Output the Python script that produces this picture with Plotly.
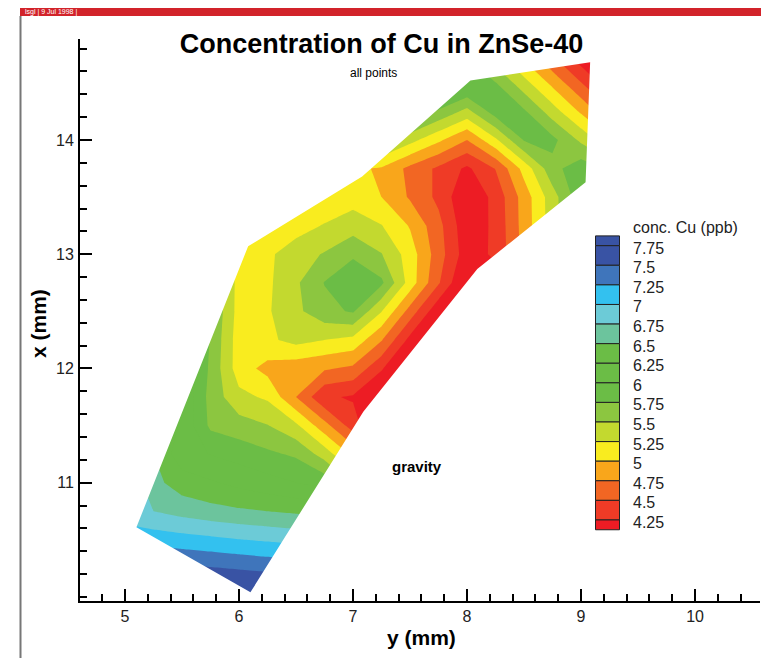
import plotly.graph_objects as go

# ---------------- data ----------------
# grid positions: horizontal axis "y (mm)" and vertical axis "x (mm)"
y_mm = [5.0, 5.25, 5.5, 5.75, 6.0, 6.25, 6.5, 6.75, 7.0, 7.25, 7.5, 7.75, 8.0, 8.25, 8.5, 8.75, 9.0, 9.25]
x_mm = [10.0, 10.25, 10.5, 10.75, 11.0, 11.25, 11.5, 11.75, 12.0, 12.25, 12.5, 12.75,
        13.0, 13.25, 13.5, 13.75, 14.0, 14.25, 14.5, 14.75]

# Cu concentration (ppb) on each grid row (one list per x value)
cu_x10_00 = [8.12, 8.08, 8.04, 7.99, 7.95, 7.91, 7.86, 7.82, 7.78, 7.73, 7.69, 7.65, 7.60, 7.56, 7.52, 7.48, 7.43, 7.39]
cu_x10_25 = [7.65, 7.61, 7.57, 7.52, 7.48, 7.44, 7.40, 7.35, 7.31, 7.26, 7.22, 7.18, 7.13, 7.09, 7.05, 7.00, 6.96, 6.92]
cu_x10_50 = [7.19, 7.14, 7.10, 7.06, 7.01, 6.97, 6.93, 6.88, 6.84, 6.80, 6.75, 6.70, 6.65, 6.60, 6.55, 6.50, 6.45, 6.40]
cu_x10_75 = [6.84, 6.75, 6.66, 6.59, 6.54, 6.50, 6.46, 6.42, 6.37, 6.30, 6.20, 6.10, 6.00, 6.00, 6.00, 6.00, 6.00, 6.00]
cu_x11_00 = [7.00, 6.58, 6.37, 6.28, 6.18, 6.09, 6.00, 5.91, 5.48, 5.30, 5.00, 5.00, 5.00, 5.20, 5.40, 5.60, 5.80, 6.00]
cu_x11_25 = [6.90, 6.50, 6.10, 5.99, 5.90, 5.80, 5.71, 5.39, 4.93, 4.37, 4.20, 4.30, 4.50, 4.80, 5.10, 5.40, 5.70, 6.00]
cu_x11_50 = [6.60, 6.60, 6.20, 5.70, 5.61, 5.51, 5.30, 4.84, 4.38, 3.85, 3.90, 4.00, 4.20, 4.50, 4.80, 5.10, 5.40, 5.70]
cu_x11_75 = [6.60, 6.60, 6.23, 5.66, 5.32, 5.21, 4.75, 4.29, 4.22, 3.80, 3.30, 3.50, 3.80, 4.20, 4.60, 5.00, 5.40, 5.70]
cu_x12_00 = [6.60, 6.60, 6.27, 5.70, 5.12, 4.92, 4.85, 4.78, 4.70, 4.29, 3.68, 3.30, 3.50, 3.90, 4.30, 4.80, 5.20, 5.60]
cu_x12_25 = [6.60, 6.60, 6.31, 5.73, 5.12, 5.20, 5.33, 5.25, 5.18, 4.77, 4.17, 3.56, 3.60, 3.90, 4.30, 4.80, 5.20, 5.60]
cu_x12_50 = [6.60, 6.60, 6.35, 5.77, 5.15, 5.22, 5.44, 5.67, 5.78, 5.26, 4.65, 4.05, 3.44, 3.80, 4.30, 4.80, 5.30, 5.70]
cu_x12_75 = [6.60, 6.60, 6.39, 5.81, 5.15, 5.20, 5.46, 5.76, 6.00, 5.80, 5.14, 4.53, 3.93, 4.10, 4.60, 5.10, 5.60, 5.90]
cu_x13_00 = [6.60, 6.60, 6.42, 5.85, 5.12, 5.20, 5.39, 5.52, 5.70, 5.51, 5.13, 4.62, 4.11, 4.30, 4.83, 5.36, 5.89, 6.20]
cu_x13_25 = [5.00, 5.00, 5.00, 5.00, 4.95, 5.01, 5.14, 5.27, 5.39, 5.26, 4.98, 4.58, 4.07, 4.31, 4.85, 5.38, 5.91, 6.30]
cu_x13_50 = [4.90, 4.90, 4.90, 4.90, 4.80, 4.76, 4.89, 5.02, 5.14, 5.00, 4.72, 4.44, 4.02, 4.33, 4.86, 5.39, 5.92, 6.40]
cu_x13_75 = [5.00, 5.00, 5.00, 5.00, 5.00, 5.00, 5.00, 5.00, 5.05, 4.97, 4.68, 4.45, 4.20, 4.51, 5.09, 5.67, 5.90, 5.70]
cu_x14_00 = [5.50, 5.50, 5.50, 5.50, 5.50, 5.50, 5.50, 5.90, 5.94, 5.64, 5.34, 5.05, 4.75, 5.20, 5.77, 5.82, 5.45, 5.05]
cu_x14_25 = [6.00, 6.00, 6.00, 6.00, 6.00, 6.00, 6.00, 6.00, 6.00, 6.20, 6.01, 5.71, 5.42, 5.88, 5.79, 5.37, 4.96, 4.54]
cu_x14_50 = [6.20, 6.20, 6.20, 6.20, 6.20, 6.20, 6.20, 6.20, 6.20, 6.20, 6.40, 6.38, 6.09, 5.76, 5.34, 4.93, 4.51, 4.09]
cu_x14_75 = [6.00, 6.00, 6.00, 6.00, 6.00, 6.00, 6.00, 6.00, 6.00, 6.00, 6.00, 6.00, 5.73, 5.31, 4.90, 4.48, 4.06, 3.65]

conc = [cu_x10_00, cu_x10_25, cu_x10_50, cu_x10_75, cu_x11_00, cu_x11_25, cu_x11_50, cu_x11_75,
        cu_x12_00, cu_x12_25, cu_x12_50, cu_x12_75, cu_x13_00, cu_x13_25, cu_x13_50, cu_x13_75,
        cu_x14_00, cu_x14_25, cu_x14_50, cu_x14_75]

# outline of the measured sample region
boundary_y = [6.10, 5.10, 6.08, 7.08, 8.03, 9.08, 9.04, 8.09, 7.09, 6.10]
boundary_x = [10.04, 10.61, 13.07, 13.68, 14.52, 14.68, 13.63, 12.87, 11.62, 10.04]

# axis ticks
x_ticks = [5, 6, 7, 8, 9, 10]
y_ticks = [11, 12, 13, 14]

# contour levels and legend labels
levels = [4.25, 4.5, 4.75, 5.0, 5.25, 5.5, 5.75, 6.0, 6.25, 6.5, 6.75, 7.0, 7.25, 7.5, 7.75]
level_labels = ["4.25", "4.5", "4.75", "5", "5.25", "5.5", "5.75", "6", "6.25", "6.5",
                "6.75", "7", "7.25", "7.5", "7.75"]
# band colours from lowest (< 4.25) to highest (> 7.75)
band_colors = ["#ed1c24", "#ef3b26", "#f26623", "#f9a61b", "#f9ec1f", "#c3d92f", "#8cc640",
               "#6bbd46", "#6bbd46", "#6bbd46", "#6cc49d", "#6ccbd7", "#33c1ef", "#3f75bb",
               "#3953a4", "#3953a4"]

# ---------------- figure ----------------
W, H = 761, 658
ML, MR, MT, MB = 80, 1, 39, 57
PW, PH = W - ML - MR, H - MT - MB


def pxx(px):
    return (px - ML) / PW


def pxy(py):
    return (H - MB - py) / PH


FONT = "Liberation Sans"

n = len(band_colors)
cscale = []
for k, col in enumerate(band_colors):
    lo = max(0.0, (k - 0.5) / (n - 1))
    hi = min(1.0, (k + 0.5) / (n - 1))
    cscale += [[lo, col], [hi, col]]

fig = go.Figure()
fig.add_trace(go.Contour(
    x=y_mm, y=x_mm, z=conc,
    autocontour=False,
    contours=dict(start=levels[0], end=levels[-1], size=levels[1] - levels[0],
                  coloring="fill", showlines=False),
    colorscale=cscale, showscale=False,
    line=dict(width=0, smoothing=0),
    hoverinfo="skip",
))

# white mask outside the sample outline (outer box + hole)
mask_y = [4.9, 9.4, 9.4, 4.9, 4.9, None] + boundary_y
mask_x = [9.9, 9.9, 14.95, 14.95, 9.9, None] + boundary_x
fig.add_trace(go.Scatter(
    x=mask_y, y=mask_x, mode="lines", fill="toself", fillcolor="white",
    line=dict(width=0, color="white"), hoverinfo="skip", showlegend=False,
))

axis_common = dict(
    showline=True, linecolor="black", linewidth=2,
    ticks="inside", ticklen=12, tickwidth=2, tickcolor="black",
    tickmode="array", showgrid=False, zeroline=False, automargin=False,
    tickfont=dict(family=FONT, size=16, color="#222"),
    minor=dict(dtick=0.2, tick0=0, ticks="inside", ticklen=7, tickwidth=1.5,
               tickcolor="black", showgrid=False),
)

fig.update_layout(
    width=W, height=H,
    margin=dict(l=ML, r=MR, t=MT, b=MB, autoexpand=False),
    paper_bgcolor="white", plot_bgcolor="white",
    showlegend=False,
    xaxis=dict(range=[4.605, 10.57], tickvals=x_ticks, ticklabelstandoff=0, **axis_common),
    yaxis=dict(range=[9.964, 14.884], tickvals=y_ticks, ticklabelstandoff=1, **axis_common),
    title=dict(text="Concentration of Cu in ZnSe-40", x=381.5 / W, xanchor="center",
               y=1 - 44 / H, yanchor="middle", automargin=False,
               font=dict(family=FONT, size=27, color="black", weight="bold")),
)

shapes = []
annotations = []

# header bar and left frame line
shapes.append(dict(type="rect", xref="paper", yref="paper", x0=pxx(20), x1=pxx(761),
                   y0=pxy(16), y1=pxy(8), fillcolor="#d2232a", line=dict(width=0), layer="above"))
shapes.append(dict(type="line", xref="paper", yref="paper", x0=pxx(20.5), x1=pxx(20.5),
                   y0=pxy(16), y1=pxy(658), line=dict(color="#777", width=2), layer="above"))
annotations.append(dict(text="lsgl | 9 Jul 1998 |", xref="paper", yref="paper",
                        x=pxx(23), y=pxy(12), xanchor="left", yanchor="middle", showarrow=False,
                        font=dict(family=FONT, size=7, color="white")))

# axis titles and labels
annotations.append(dict(text="<b>y (mm)</b>", xref="paper", yref="paper", x=pxx(421.5), y=pxy(637.5),
                        xanchor="center", yanchor="middle", showarrow=False,
                        font=dict(family=FONT, size=21, color="black")))
annotations.append(dict(text="<b>x (mm)</b>", xref="paper", yref="paper", x=pxx(38), y=pxy(324),
                        xanchor="center", yanchor="middle", showarrow=False, textangle=-90,
                        font=dict(family=FONT, size=21, color="black")))
annotations.append(dict(text="all points", xref="paper", yref="paper", x=pxx(373), y=pxy(72.5),
                        xanchor="center", yanchor="middle", showarrow=False,
                        font=dict(family=FONT, size=12, color="black")))
annotations.append(dict(text="<b>gravity</b>", xref="x", yref="y", x=7.56, y=11.14,
                        xanchor="center", yanchor="middle", showarrow=False,
                        font=dict(family=FONT, size=15, color="black")))

# discrete legend
box_x0, box_x1 = 595.5, 619.5
first_boundary = 245.7
step = 19.59
half = 9.8
n_lv = len(levels)
bounds = [first_boundary + j * step for j in range(n_lv)]  # top (7.75) to bottom (4.25)
edges = [bounds[0] - half] + bounds + [bounds[-1] + half]
for j in range(len(edges) - 1):
    col = band_colors[len(band_colors) - 1 - j]
    shapes.append(dict(type="rect", xref="paper", yref="paper",
                       x0=pxx(box_x0), x1=pxx(box_x1), y0=pxy(edges[j + 1]), y1=pxy(edges[j]),
                       fillcolor=col, line=dict(color="#222", width=1), layer="above"))
for j in range(n_lv):
    lab = level_labels[n_lv - 1 - j]
    annotations.append(dict(text=lab, xref="paper", yref="paper", x=pxx(631), y=pxy(bounds[j] + 2.5),
                            xanchor="left", yanchor="middle", showarrow=False,
                            font=dict(family=FONT, size=16, color="#222")))
annotations.append(dict(text="conc. Cu (ppb)", xref="paper", yref="paper", x=pxx(631), y=pxy(228),
                        xanchor="left", yanchor="middle", showarrow=False,
                        font=dict(family=FONT, size=16, color="#222")))

fig.update_layout(shapes=shapes, annotations=annotations)
fig.write_html("out.html", config={"displayModeBar": False},
               post_script="document.body.style.margin='0px';")
